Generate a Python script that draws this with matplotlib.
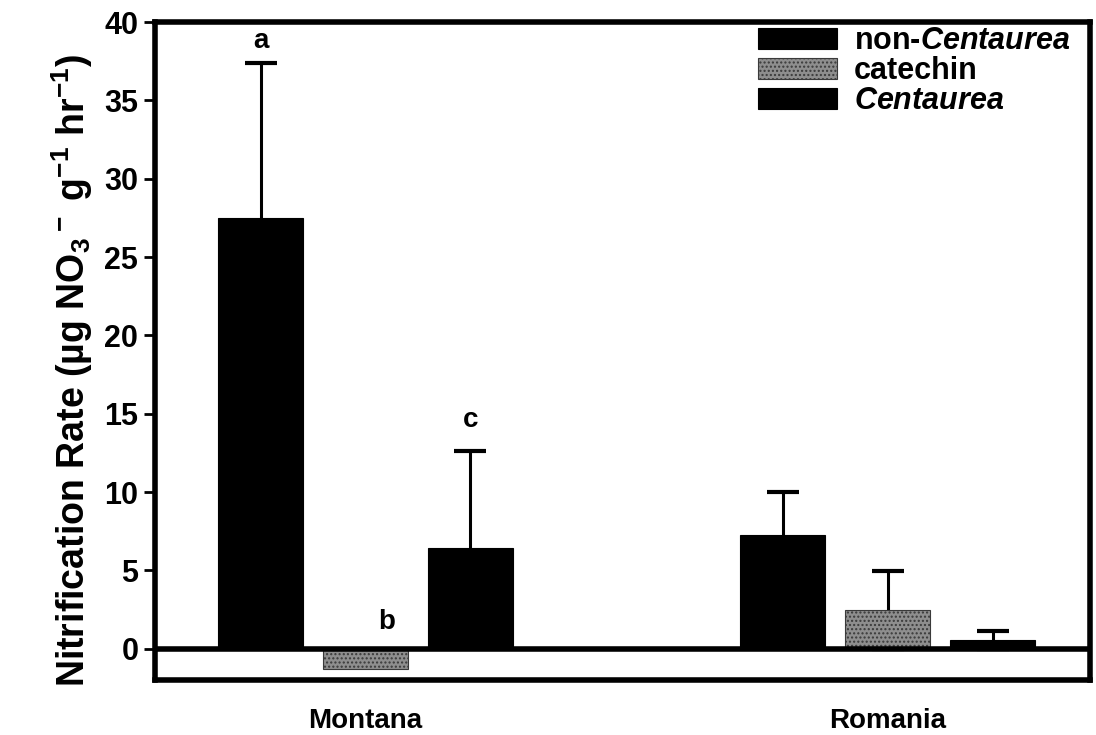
import numpy as np
import matplotlib
matplotlib.use("Agg")
import matplotlib.pyplot as plt

plt.rcParams['font.family'] = ['Liberation Sans', 'DejaVu Sans']
plt.rcParams['font.weight'] = 'bold'
plt.rcParams['mathtext.fontset'] = 'custom'
plt.rcParams['mathtext.rm'] = 'Liberation Sans:bold'
plt.rcParams['mathtext.bf'] = 'Liberation Sans:bold'
plt.rcParams['mathtext.it'] = 'Liberation Sans:bold:italic'
plt.rcParams['mathtext.default'] = 'rm'

# datos
sitios = ["Montana", "Romania"]
series = ["non-$\\mathit{Centaurea}$", "catechin", "$\\mathit{Centaurea}$"]
media = {
    "non": [27.5, 7.25],
    "cat": [-1.3, 2.45],
    "cen": [6.4, 0.55],
}
error = {
    "non": [9.9, 2.75],
    "cat": [0.0, 2.5],
    "cen": [6.2, 0.55],
}
letras = ["a", "b", "c"]
letras_y = [38.8, 1.7, 14.6]

fig = plt.figure(figsize=(10.96, 7.35), dpi=100)
ax = fig.add_axes([155/1096, 1-680/735, 935/1096, 658/735])

x = np.arange(len(sitios))
sep = 0.201
ancho = 0.163
colores = {"non": "black", "cat": "#8e8e8e", "cen": "black"}
hatches = {"non": None, "cat": "....", "cen": None}

for i, key in enumerate(["non", "cat", "cen"]):
    pos = x + (i - 1) * sep
    # barras encima de las barras de error, asi solo se ve la mitad superior
    ax.bar(pos, media[key], ancho, color=colores[key], hatch=hatches[key],
           edgecolor="#3a3a3a" if key == "cat" else "black", linewidth=0.8,
           label=series[i], zorder=3)
    for p, m, e in zip(pos, media[key], error[key]):
        if e > 0:
            ax.errorbar(p, m, yerr=e, fmt="none", ecolor="black",
                        elinewidth=2.2, capsize=11.5, capthick=3, zorder=2)

# letras de significancia (solo Montana)
for i, (l, ly) in enumerate(zip(letras, letras_y)):
    dx = 0.04 if l == "b" else 0.0
    ax.text(x[0] + (i - 1) * sep + dx, ly, l, ha="center", va="center",
            fontsize=20, fontweight="bold")

ax.axhline(0, color="black", linewidth=4, zorder=4)

ax.set_xlim(-0.403, 1.387)
ax.set_ylim(-2, 40)
ax.set_yticks(np.arange(0, 41, 5))
ax.set_xticks(x)
ax.set_xticklabels(sitios, fontsize=20, fontweight="bold")
ax.tick_params(axis="x", length=0, pad=20)
ax.tick_params(axis="y", direction="out", length=8, width=2, labelsize=22, pad=4)
for s in ax.spines.values():
    s.set_linewidth(4)

ax.set_ylabel("Nitrification Rate (µg NO$_3$$^-$ g$^{-1}$ hr$^{-1}$)",
              fontsize=27, fontweight="bold")
ax.yaxis.set_label_coords(-0.064, 0.47)

ax.legend(loc="upper right", frameon=False, fontsize=22, handlelength=2.6,
          handleheight=0.7, labelspacing=0.0, handletextpad=0.55,
          borderaxespad=0.0, bbox_to_anchor=(0.992, 1.012))

fig.savefig("out.png", dpi=100)
